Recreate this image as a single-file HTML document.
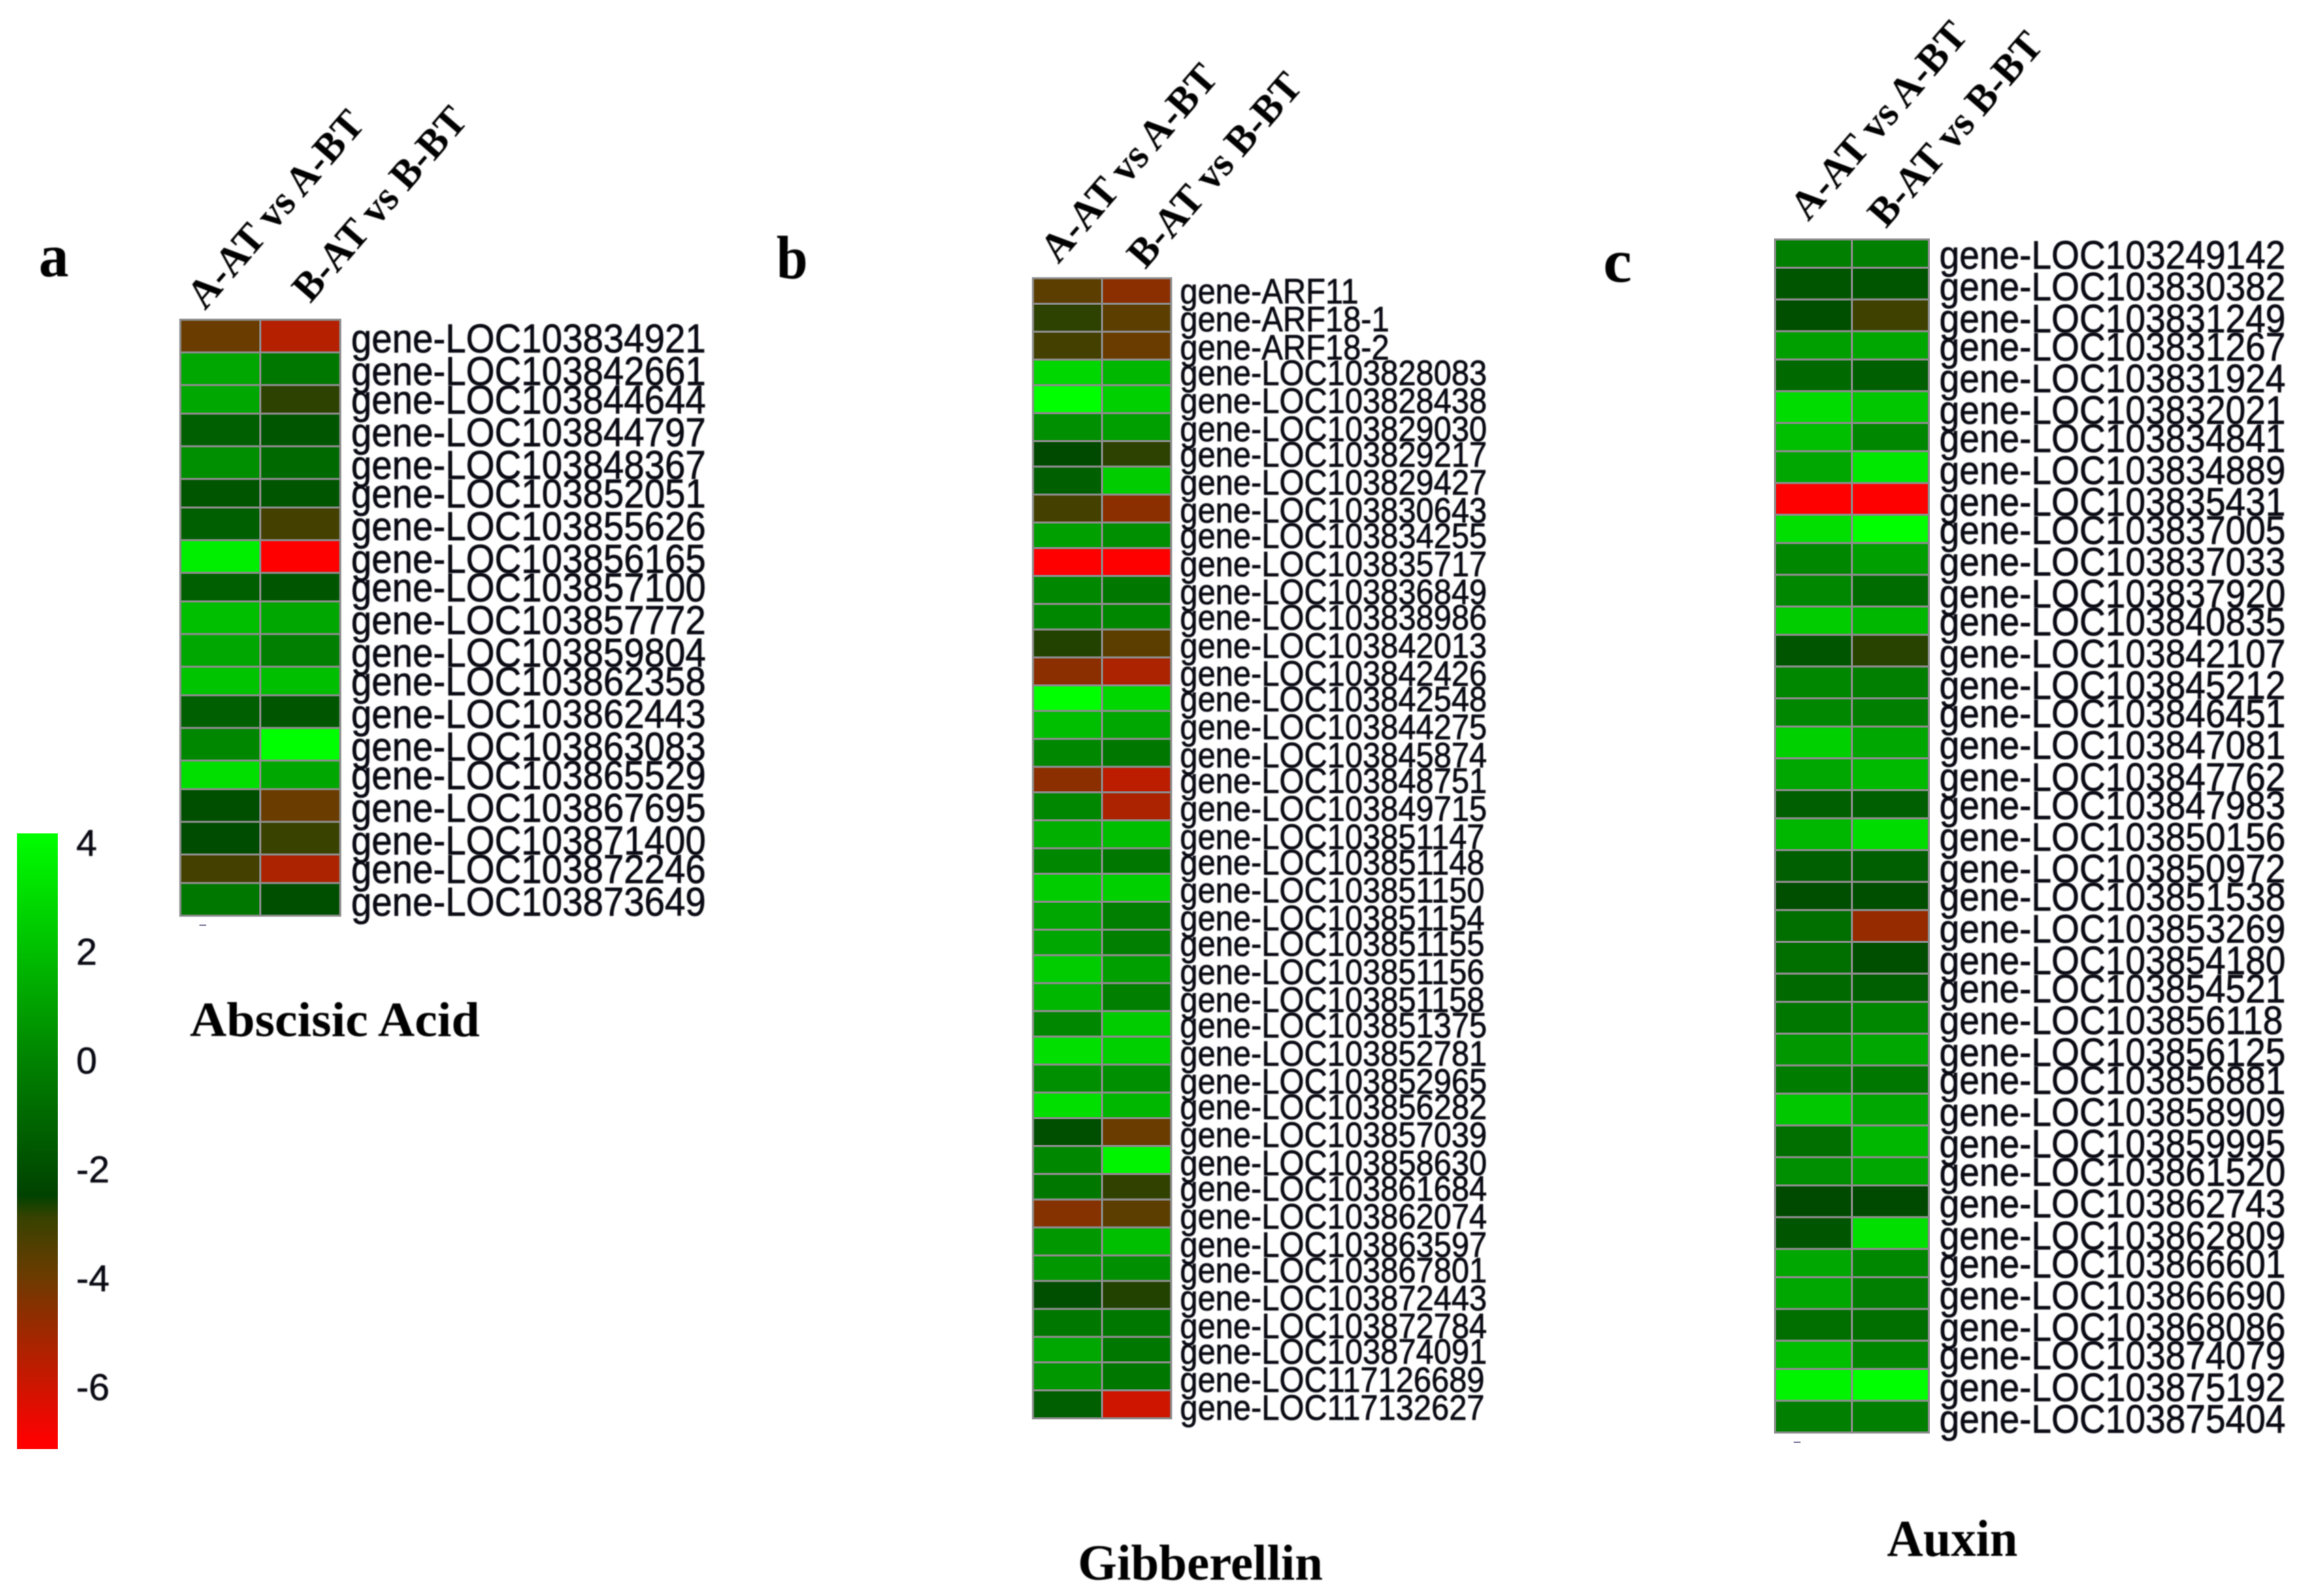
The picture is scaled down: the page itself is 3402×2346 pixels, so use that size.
<!DOCTYPE html>
<html lang="en">
<head>
<meta charset="utf-8">
<title>Heatmaps of hormone-related genes</title>
<style>
html,body{margin:0;padding:0;background:#fff;}
svg{display:block;}
.gene{font-family:"Liberation Sans",sans-serif;fill:#0a0a14;stroke:#0a0a14;stroke-width:0.7px;filter:blur(0.7px);}
.head{font-family:"Liberation Serif",serif;font-weight:bold;fill:#000;filter:blur(0.7px);}
.tick{font-family:"Liberation Sans",sans-serif;font-size:55px;fill:#0a0a14;stroke:#0a0a14;stroke-width:0.6px;filter:blur(0.7px);}
</style>
</head>
<body>
<svg id="chart" xmlns="http://www.w3.org/2000/svg" width="3402" height="2346" viewBox="0 0 3402 2346">
  <rect x="0" y="0" width="3402" height="2346" fill="#fff"/>
  <text class="head" x="57" y="406" font-size="90" textLength="44" lengthAdjust="spacingAndGlyphs">a</text>
  <text class="head" x="1141" y="409" font-size="90" textLength="46" lengthAdjust="spacingAndGlyphs">b</text>
  <text class="head" x="2356" y="414" font-size="90" textLength="42" lengthAdjust="spacingAndGlyphs">c</text>
  <text class="head" x="279" y="1523" font-size="72" textLength="426" lengthAdjust="spacingAndGlyphs">Abscisic Acid</text>
  <text class="head" x="1584" y="2322" font-size="74" textLength="360" lengthAdjust="spacingAndGlyphs">Gibberellin</text>
  <text class="head" x="2773" y="2287" font-size="76" textLength="192" lengthAdjust="spacingAndGlyphs">Auxin</text>
  <g id="colorbar"></g>
  <g id="panels"></g>
</svg>
<script>
const columnLabels = ["A-AT vs A-BT", "B-AT vs B-BT"];

const abaGenes = ["gene-LOC103834921","gene-LOC103842661","gene-LOC103844644","gene-LOC103844797","gene-LOC103848367","gene-LOC103852051","gene-LOC103855626","gene-LOC103856165","gene-LOC103857100","gene-LOC103857772","gene-LOC103859804","gene-LOC103862358","gene-LOC103862443","gene-LOC103863083","gene-LOC103865529","gene-LOC103867695","gene-LOC103871400","gene-LOC103872246","gene-LOC103873649"];
const abaSeriesA = [-3.91,1.24,1.24,-1.34,0.44,-1.74,-1.34,3.65,-1.34,2.04,1.24,2.22,-1.34,0.17,3.12,-1.95,-2.05,-3.12,-0.37];
const abaSeriesB = [-5.42,-0.37,-2.78,-1.74,-0.93,-1.74,-3.12,-7,-1.74,1.24,-0.11,2.04,-1.74,4.2,1.24,-3.91,-2.91,-5.24,-1.95];

const gaGenes = ["gene-ARF11","gene-ARF18-1","gene-ARF18-2","gene-LOC103828083","gene-LOC103828438","gene-LOC103829030","gene-LOC103829217","gene-LOC103829427","gene-LOC103830643","gene-LOC103834255","gene-LOC103835717","gene-LOC103836849","gene-LOC103838986","gene-LOC103842013","gene-LOC103842426","gene-LOC103842548","gene-LOC103844275","gene-LOC103845874","gene-LOC103848751","gene-LOC103849715","gene-LOC103851147","gene-LOC103851148","gene-LOC103851150","gene-LOC103851154","gene-LOC103851155","gene-LOC103851156","gene-LOC103851158","gene-LOC103851375","gene-LOC103852781","gene-LOC103852965","gene-LOC103856282","gene-LOC103857039","gene-LOC103858630","gene-LOC103861684","gene-LOC103862074","gene-LOC103863597","gene-LOC103867801","gene-LOC103872443","gene-LOC103872784","gene-LOC103874091","gene-LOC117126689","gene-LOC117132627"];
const gaSeriesA = [-3.6,-2.78,-3.12,2.85,4.2,0.44,-2.15,-1.34,-3.12,0.97,-7,0.17,0.17,-2.7,-4.57,4.2,2.04,0.17,-4.57,0.17,1.51,0.17,2.49,1.24,1.24,2.49,1.78,0.17,3.12,0.44,3.12,-1.95,0.17,-0.37,-4.45,0.7,0.7,-1.95,-0.37,1.24,0.7,-1.34];
const gaSeriesB = [-4.57,-3.6,-3.91,1.78,2.58,0.97,-2.78,2.49,-4.57,0.44,-7,-0.37,0.17,-3.6,-5.24,2.85,1.24,-0.37,-5.59,-5.24,2.04,-0.37,2.58,-0.11,-0.11,0.97,-0.11,2.49,2.58,0.44,1.78,-3.91,3.83,-2.81,-3.6,2.04,0.44,-2.7,-0.37,-0.37,-0.37,-5.94];

const auxinGenes = ["gene-LOC103249142","gene-LOC103830382","gene-LOC103831249","gene-LOC103831267","gene-LOC103831924","gene-LOC103832021","gene-LOC103834841","gene-LOC103834889","gene-LOC103835431","gene-LOC103837005","gene-LOC103837033","gene-LOC103837920","gene-LOC103840835","gene-LOC103842107","gene-LOC103845212","gene-LOC103846451","gene-LOC103847081","gene-LOC103847762","gene-LOC103847983","gene-LOC103850156","gene-LOC103850972","gene-LOC103851538","gene-LOC103853269","gene-LOC103854180","gene-LOC103854521","gene-LOC103856118","gene-LOC103856125","gene-LOC103856881","gene-LOC103858909","gene-LOC103859995","gene-LOC103861520","gene-LOC103862743","gene-LOC103862809","gene-LOC103866601","gene-LOC103866690","gene-LOC103868086","gene-LOC103874079","gene-LOC103875192","gene-LOC103875404"];
const auxinSeriesA = [-0.11,-1.74,-1.95,0.97,-0.93,3.03,2.04,1.24,-7,3.12,0.17,0.17,2.49,-1.74,0.17,0.17,2.58,1.24,-1.34,1.78,-1.34,-1.95,-0.72,-0.72,-0.93,-0.37,0.7,-0.2,2.31,-0.72,0.44,-2.15,-1.74,1.24,1.24,-0.72,2.04,3.83,-0.11];
const auxinSeriesB = [-0.11,-1.74,-3.02,1.24,-1.34,2.31,0.17,3.38,-7,4.2,0.97,-0.83,1.78,-2.74,-0.11,-0.11,1.24,1.87,-1.34,3.03,-1.34,-1.95,-4.82,-1.95,-1.34,0.17,1.24,-0.37,1.24,1.78,1.24,-2.15,3.12,0.17,-0.11,-0.72,0.17,4.2,-0.11];

const colorTicks = [4, 2, 0, -2, -4, -6];
const colorStopValues = [-7, -5.4, -3.9, -2.85, -2.45, 0, 4.2];
const colorStopRed = [255, 179, 106, 55, 0, 0, 0];
const colorStopGreen = [0, 32, 60, 66, 66, 130, 255];

const SVG_NS = "http://www.w3.org/2000/svg";

function colorOf(v) {
  const n = colorStopValues.length;
  if (v <= colorStopValues[0]) return "rgb(" + colorStopRed[0] + "," + colorStopGreen[0] + ",0)";
  if (v >= colorStopValues[n - 1]) return "rgb(" + colorStopRed[n - 1] + "," + colorStopGreen[n - 1] + ",0)";
  for (let i = 0; i < n - 1; i++) {
    if (v <= colorStopValues[i + 1]) {
      const t = (v - colorStopValues[i]) / (colorStopValues[i + 1] - colorStopValues[i]);
      const r = colorStopRed[i] + t * (colorStopRed[i + 1] - colorStopRed[i]);
      const g = colorStopGreen[i] + t * (colorStopGreen[i + 1] - colorStopGreen[i]);
      return "rgb(" + Math.round(r) + "," + Math.round(g) + ",0)";
    }
  }
}

/* Row axis: the source image spaces rows in a repeating long, long, short rhythm. */
function rowOffset(i, big, small, phase) {
  return i * big - Math.floor((i + phase) / 3) * (big - small);
}

function drawPanel(root, key, genes, seriesList, layout) {
  const group = document.createElementNS(SVG_NS, "g");
  
  
  root.appendChild(group);

  const colWidth = (layout.right - layout.left) / seriesList.length;
  const rowY = function (i) { return layout.top + rowOffset(i, layout.cellBig, layout.cellSmall, layout.cellPhase); };
  const labelY = function (i) { return layout.baseline + rowOffset(i, layout.labelBig, layout.labelSmall, layout.labelPhase); };

  seriesList.forEach(function (series, c) {
    series.forEach(function (value, r) {
      const cell = document.createElementNS(SVG_NS, "rect");
      
      
      cell.setAttribute("x", layout.left + c * colWidth);
      cell.setAttribute("y", rowY(r));
      cell.setAttribute("width", colWidth);
      cell.setAttribute("height", rowY(r + 1) - rowY(r));
      cell.setAttribute("fill", colorOf(value));
      cell.setAttribute("stroke", "#8c8c8c");
      cell.setAttribute("stroke-width", "3");
      group.appendChild(cell);
    });
  });

  genes.forEach(function (gene, r) {
    const label = document.createElementNS(SVG_NS, "text");
    
    
    label.setAttribute("class", "gene");
    label.setAttribute("transform", "translate(" + layout.labelX + "," + labelY(r) + ") scale(1,1.1)");
    label.setAttribute("font-size", layout.fontSize);
    label.textContent = gene;
    group.appendChild(label);
  });

  columnLabels.forEach(function (text, c) {
    const head = layout.heads[c];
    const label = document.createElementNS(SVG_NS, "text");
    
    
    label.setAttribute("class", "head");
    label.setAttribute("font-size", "60");
    label.setAttribute("textLength", head.len);
    label.setAttribute("lengthAdjust", "spacingAndGlyphs");
    label.setAttribute("transform", "translate(" + head.x + "," + head.y + ") rotate(-49)");
    label.textContent = text;
    group.appendChild(label);
  });

  if (layout.mark) {
    const mark = document.createElementNS(SVG_NS, "rect");
    
    
    mark.setAttribute("x", layout.mark.x);
    mark.setAttribute("y", layout.mark.y);
    mark.setAttribute("width", "10");
    mark.setAttribute("height", "2");
    mark.setAttribute("fill", "#77779a");
    group.appendChild(mark);
  }
}

function drawColorbar(root) {
  const barLeft = 25, barWidth = 60, barTop = 1225, barBottom = 2130;
  const zeroY = 1561, unit = 80;
  const valueY = function (v) { return zeroY - unit * v; };

  const defs = document.createElementNS(SVG_NS, "defs");
  const grad = document.createElementNS(SVG_NS, "linearGradient");
  grad.setAttribute("id", "colorbar-gradient");
  grad.setAttribute("x1", "0");
  grad.setAttribute("x2", "0");
  grad.setAttribute("y1", "0");
  grad.setAttribute("y2", "1");
  colorStopValues.slice().reverse().forEach(function (v) {
    const stop = document.createElementNS(SVG_NS, "stop");
    const f = Math.min(1, Math.max(0, (valueY(v) - barTop) / (barBottom - barTop)));
    stop.setAttribute("offset", f);
    stop.setAttribute("stop-color", colorOf(v));
    grad.appendChild(stop);
  });
  defs.appendChild(grad);
  root.appendChild(defs);

  const bar = document.createElementNS(SVG_NS, "rect");
  
  
  bar.setAttribute("x", barLeft);
  bar.setAttribute("y", barTop);
  bar.setAttribute("width", barWidth);
  bar.setAttribute("height", barBottom - barTop);
  bar.setAttribute("fill", "url(#colorbar-gradient)");
  root.appendChild(bar);

  colorTicks.forEach(function (v) {
    const tick = document.createElementNS(SVG_NS, "text");
    
    
    tick.setAttribute("class", "tick");
    tick.setAttribute("x", 112);
    tick.setAttribute("y", valueY(v) + 17);
    tick.textContent = String(v);
    root.appendChild(tick);
  });
}

drawColorbar(document.getElementById("colorbar"));

const panelRoot = document.getElementById("panels");

drawPanel(panelRoot, "abscisic-acid", abaGenes, [abaSeriesA, abaSeriesB], {
  left: 265, right: 500, top: 470,
  cellBig: 48, cellSmall: 42, cellPhase: 0,
  labelX: 516, baseline: 518, labelBig: 48, labelSmall: 42, labelPhase: 1, fontSize: 54.2,
  heads: [{x: 301, y: 457, len: 362}, {x: 456, y: 447, len: 356}],
  mark: {x: 293, y: 1359}
});

drawPanel(panelRoot, "gibberellin", gaGenes, [gaSeriesA, gaSeriesB], {
  left: 1518, right: 1721, top: 409,
  cellBig: 41.1, cellSmall: 37.5, cellPhase: 2,
  labelX: 1734, baseline: 446, labelBig: 41.2, labelSmall: 37.5, labelPhase: 0, fontSize: 46.9,
  heads: [{x: 1555, y: 389, len: 362}, {x: 1683, y: 397, len: 356}]
});

drawPanel(panelRoot, "auxin", auxinGenes, [auxinSeriesA, auxinSeriesB], {
  left: 2608.5, right: 2834.5, top: 352,
  cellBig: 46.7, cellSmall: 41.5, cellPhase: 2,
  labelX: 2850, baseline: 395, labelBig: 46.7, labelSmall: 41.4, labelPhase: 0, fontSize: 52.9,
  heads: [{x: 2657, y: 326.5, len: 362}, {x: 2771.5, y: 337, len: 356}],
  mark: {x: 2636, y: 2119}
});
</script>
</body>
</html>
